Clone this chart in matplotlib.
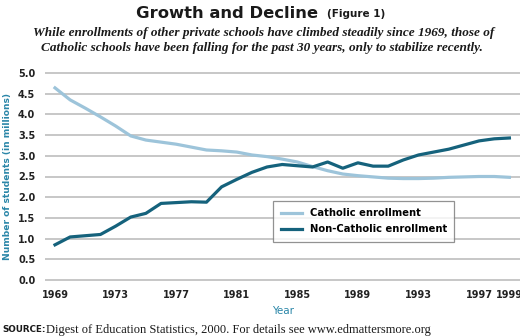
import matplotlib

matplotlib.use("Agg")
import matplotlib.pyplot as plt

years = list(range(1969, 2000))
catholic = [
    4.64, 4.35, 4.15, 3.94, 3.72, 3.48, 3.38, 3.33, 3.28, 3.21,
    3.14, 3.12, 3.09, 3.02, 2.98, 2.92, 2.85, 2.74, 2.64, 2.56,
    2.52, 2.49, 2.46, 2.45, 2.45, 2.46, 2.48, 2.49, 2.50, 2.50,
    2.48,
]
non_catholic = [
    0.85, 1.04, 1.07, 1.10, 1.30, 1.52, 1.61, 1.85, 1.87, 1.89,
    1.88, 2.25, 2.43, 2.60, 2.73, 2.79, 2.76, 2.73, 2.85, 2.70,
    2.83, 2.75, 2.75, 2.90, 3.02, 3.09, 3.16, 3.26, 3.36, 3.41,
    3.43,
]
x_ticks = [1969, 1973, 1977, 1981, 1985, 1989, 1993, 1997, 1999]
y_ticks = [0.0, 0.5, 1.0, 1.5, 2.0, 2.5, 3.0, 3.5, 4.0, 4.5, 5.0]

LIGHT = "#9dc4da"
DARK = "#15627c"
TEAL = "#2a86a8"
GRID = "#bdbdbd"
W, H = 520, 336

fig = plt.figure(figsize=(W / 100, H / 100), dpi=100)
fig.patch.set_facecolor("white")

# axes box in pixel coordinates of the reference
left, right = 45, 520
top, bottom = 70.9, 282.1
ax = fig.add_axes([left / W, 1 - bottom / H, (right - left) / W, (bottom - top) / H])

ax.plot(years, catholic, color=LIGHT, lw=2.3, label="Catholic enrollment",
        solid_joinstyle="round", zorder=3)
ax.plot(years, non_catholic, color=DARK, lw=2.3, label="Non-Catholic enrollment",
        solid_joinstyle="round", zorder=3)

ax.set_xlim(1968.34, 1999.7)
ax.set_ylim(-0.05, 5.05)
ax.set_xticks(x_ticks)
ax.set_yticks(y_ticks)
ax.set_yticklabels([f"{v:.1f}" for v in y_ticks])
ax.yaxis.grid(True, color=GRID, lw=1.2)
ax.set_axisbelow(True)
for s in ax.spines.values():
    s.set_visible(False)
ax.tick_params(length=0, labelsize=7.0, labelcolor="#222222")
ax.tick_params(axis="y", pad=7)
ax.tick_params(axis="x", pad=6)
for lab in ax.get_xticklabels() + ax.get_yticklabels():
    lab.set_fontweight("semibold")

leg = ax.legend(loc="upper left", bbox_to_anchor=((273 - left) / (right - left), (bottom - 201) / (bottom - top)),
                frameon=True, fancybox=False, edgecolor="#777777", fontsize=7.2,
                handlelength=2.1, borderpad=0.75, labelspacing=0.6, borderaxespad=0)
leg.get_frame().set_linewidth(0.9)
for t in leg.get_texts():
    t.set_fontweight("semibold")

fig.text(8 / W, 1 - 177 / H, "Number of students (in millions)", rotation=90,
         ha="center", va="center", fontsize=6.6, color=TEAL, fontweight="semibold")
fig.text(283 / W, 1 - 311 / H, "Year", ha="center", va="center", fontsize=7.5, color=TEAL)

fig.text(318 / W, 1 - 13 / H, "Growth and Decline", ha="right", va="center",
         fontsize=11.8, fontweight="bold", color="#1a1a1a")
fig.text(327 / W, 1 - 14 / H, "(Figure 1)", ha="left", va="center",
         fontsize=7.5, fontweight="bold", color="#1a1a1a")
fig.text(264 / W, 1 - 33 / H,
         "While enrollments of other private schools have climbed steadily since 1969, those of",
         ha="center", va="center", fontsize=9.5, style="italic", fontweight="bold",
         family="Liberation Serif", color="#1a1a1a")
fig.text(262 / W, 1 - 48 / H,
         "Catholic schools have been falling for the past 30 years, only to stabilize recently.",
         ha="center", va="center", fontsize=9.5, style="italic", fontweight="bold",
         family="Liberation Serif", color="#1a1a1a")

fig.text(2 / W, 1 - 330 / H, "SOURCE:", ha="left", va="center",
         fontsize=6.3, fontweight="bold", color="#1a1a1a")
fig.text(46 / W, 1 - 330 / H,
         "Digest of Education Statistics, 2000. For details see www.edmattersmore.org",
         ha="left", va="center", fontsize=9.0, family="Liberation Serif", color="#1a1a1a")

fig.savefig("out.png", dpi=100, facecolor="white")
